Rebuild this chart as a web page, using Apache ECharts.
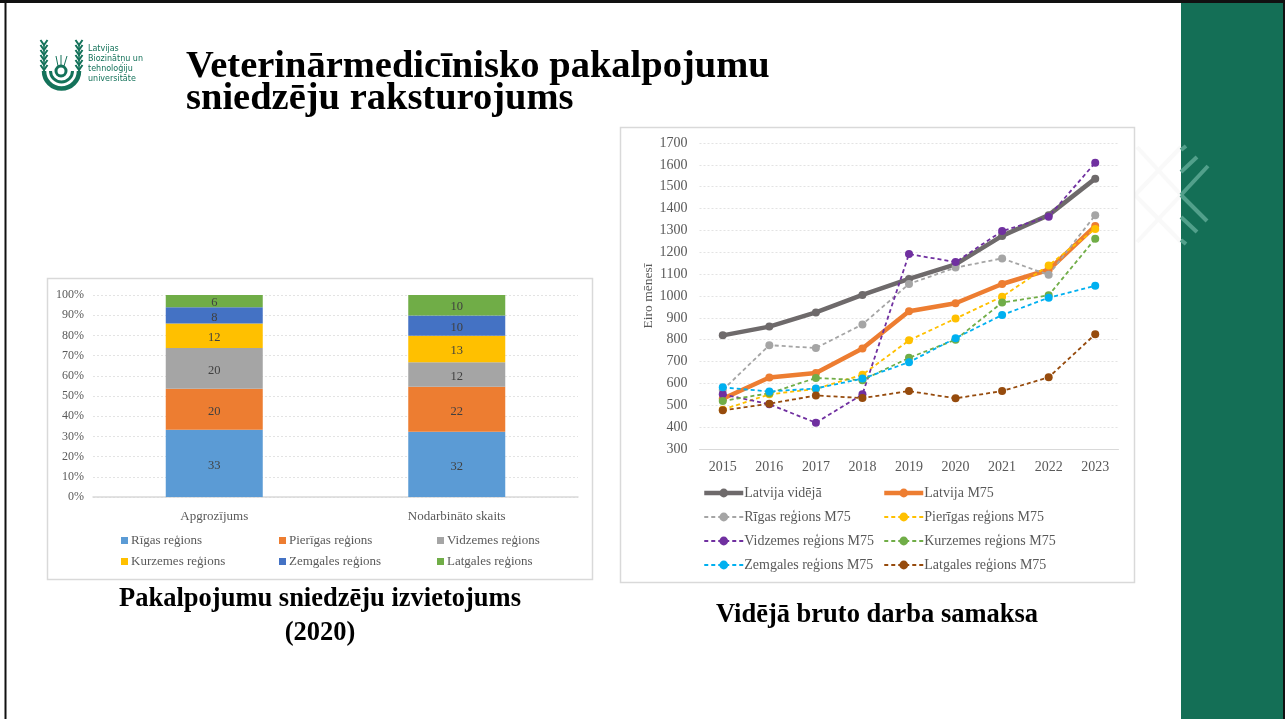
<!DOCTYPE html>
<html><head><meta charset="utf-8">
<style>html,body{margin:0;padding:0;background:#fff}#c{width:1285px;height:719px}</style>
<script src="https://cdn.jsdelivr.net/npm/echarts@6/dist/echarts.min.js"></script>
</head><body><div id="c"></div>
<script>
const years=['2015','2016','2017','2018','2019','2020','2021','2022','2023'];
const latvijaVideja=[820,860,925,1005,1078,1145,1275,1370,1537];
const latvijaM75=[530,627,648,760,930,967,1055,1120,1320];
const rigasM75=[570,775,762,870,1055,1130,1172,1097,1370];
const pierigasM75=[480,550,575,640,797,897,997,1140,1307];
const vidzemesM75=[550,505,420,550,1192,1155,1297,1363,1610];
const kurzemesM75=[520,555,625,615,717,800,970,1003,1262];
const zemgalesM75=[582,563,577,622,697,807,913,992,1047];
const latgalesM75=[477,507,545,533,565,532,565,628,825];

const barCategories=['Apgrozījums','Nodarbināto skaits'];
const rigasShare=[33,32];
const pierigasShare=[20,22];
const vidzemesShare=[20,12];
const kurzemesShare=[12,13];
const zemgalesShare=[8,10];
const latgalesShare=[6,10];
const shareRows=[rigasShare,pierigasShare,vidzemesShare,kurzemesShare,zemgalesShare,latgalesShare];
const barTotals=barCategories.map((_,i)=>shareRows.reduce((s,r)=>s+r[i],0));

const serif='"Liberation Serif","Times New Roman",serif';
const textGrey='#595959';
const barDefs=[['Rīgas reģions',rigasShare,'#5b9bd5'],['Pierīgas reģions',pierigasShare,'#ed7d31'],['Vidzemes reģions',vidzemesShare,'#a5a5a5'],['Kurzemes reģions',kurzemesShare,'#ffc000'],['Zemgales reģions',zemgalesShare,'#4472c4'],['Latgales reģions',latgalesShare,'#70ad47']];
const lineDefs=[['Latvija vidējā',latvijaVideja,'#6e6a6b',true],['Latvija M75',latvijaM75,'#ed7d31',true],['Rīgas reģions M75',rigasM75,'#a5a5a5',false],['Pierīgas reģions M75',pierigasM75,'#ffc000',false],['Vidzemes reģions M75',vidzemesM75,'#7030a0',false],['Kurzemes reģions M75',kurzemesM75,'#70ad47',false],['Zemgales reģions M75',zemgalesM75,'#00b0f0',false],['Latgales reģions M75',latgalesM75,'#964b0d',false]];

const series=[];
barDefs.forEach(d=>series.push({type:'bar',name:d[0],stack:'s',xAxisIndex:0,yAxisIndex:0,barWidth:97,
  data:d[1].map((v,i)=>({value:v/barTotals[i]*100,raw:v})),itemStyle:{color:d[2]},
  label:{show:true,position:'inside',offset:[0,2],fontFamily:serif,fontSize:12.5,color:'#404040',formatter:p=>p.data.raw}}));
lineDefs.forEach(d=>series.push({type:'line',name:d[0],xAxisIndex:1,yAxisIndex:1,data:d[1],symbol:'circle',symbolSize:8,
  lineStyle:{color:d[2],width:d[3]?4.5:1.8,type:d[3]?'solid':[4,3]},itemStyle:{color:d[2]},emphasis:{disabled:true}}));

function barLegend(names,left){return {data:names,left,top:534,orient:'vertical',itemGap:8,itemWidth:7,itemHeight:7,icon:'rect',padding:0,
  textStyle:{fontFamily:serif,fontSize:13,color:textGrey,padding:[0,0,0,-2]}};}
function lineLegend(names,left){return {data:names,left,top:486,orient:'vertical',itemGap:10,itemWidth:39,itemHeight:11,padding:0,
  lineStyle:{width:'inherit',type:'inherit'},
  textStyle:{fontFamily:serif,fontSize:14,color:textGrey,padding:[0,0,0,-4]}};}

const G='#14725a';
const decor=[];
// slide background and side band
decor.push({type:'rect',shape:{x:1181,y:0,width:102,height:719},style:{fill:'#146f56'},z:0});
[[1137,147,1181,195],[1137,242,1181,195],[1135,195,1181,147],[1135,195,1181,242]].forEach(p=>decor.push({type:'line',shape:{x1:p[0],y1:p[1],x2:p[2],y2:p[3]},style:{stroke:'#f9f9f9',lineWidth:4},z:0}));
[[1181,195,1208,166],[1181,195,1207,221],[1181,172,1197,157],[1181,217,1197,232],[1181,150,1186,146],[1181,240,1186,244]].forEach(p=>decor.push({type:'line',shape:{x1:p[0],y1:p[1],x2:p[2],y2:p[3]},style:{stroke:'#52a08b',lineWidth:4},z:1}));
// slide frame
decor.push({type:'rect',shape:{x:0,y:0,width:1285,height:3},style:{fill:'#111'},z:3});
decor.push({type:'rect',shape:{x:4.5,y:0,width:2,height:719},style:{fill:'#111'},z:3});
decor.push({type:'rect',shape:{x:1283,y:0,width:2,height:719},style:{fill:'#111'},z:3});
// chart panels
decor.push({type:'rect',shape:{x:47.5,y:278.5,width:545,height:301},style:{fill:'#fff',stroke:'#d9d9d9',lineWidth:1.5},z:0});
decor.push({type:'rect',shape:{x:620.5,y:127.5,width:514,height:455},style:{fill:'#fff',stroke:'#d9d9d9',lineWidth:1.5},z:0});
// logo
decor.push({type:'arc',shape:{cx:61.5,cy:71,r:17.5,startAngle:0,endAngle:Math.PI},style:{stroke:G,lineWidth:4.5,fill:null},z:1});
decor.push({type:'arc',shape:{cx:61.5,cy:71,r:11,startAngle:0,endAngle:Math.PI},style:{stroke:G,lineWidth:3,fill:null},z:1});
[[44,44,44,71],[79,44,79,71]].forEach(p=>decor.push({type:'line',shape:{x1:p[0],y1:p[1],x2:p[2],y2:p[3]},style:{stroke:G,lineWidth:1.5},z:1}));
[44,79].forEach(x=>{[42,47,52,57,62,67].forEach(y=>{
  decor.push({type:'polyline',shape:{points:[[x-3.5,y-2],[x,y+3],[x+3.5,y-2]]},style:{stroke:G,lineWidth:2,fill:null},z:1});});});
decor.push({type:'circle',shape:{cx:61,cy:71,r:5},style:{fill:'#fff',stroke:G,lineWidth:3},z:1});
[[58,66,56,56],[61,66,61,55],[64,66,67,56]].forEach(p=>decor.push({type:'line',shape:{x1:p[0],y1:p[1],x2:p[2],y2:p[3]},style:{stroke:G,lineWidth:1},z:1}));
// texts
const logoLines=['Latvijas','Biozinātņu un','tehnoloģiju','universitāte'];
logoLines.forEach((t,i)=>decor.push({type:'text',x:88,y:44.5+i*10,style:{text:t,font:'8px "DejaVu Sans",sans-serif',fill:G,textVerticalAlign:'top'},z:1}));
const titleLines=['Veterinārmedicīnisko pakalpojumu','sniedzēju raksturojums'];
titleLines.forEach((t,i)=>decor.push({type:'text',x:186,y:47.5+i*32,style:{text:t,font:'bold 38.5px '+serif,fill:'#000'},z:1}));
const captions=[['Pakalpojumu sniedzēju izvietojums',320,586],['(2020)',320,620],['Vidējā bruto darba samaksa',877,602]];
captions.forEach(c=>decor.push({type:'text',x:c[1],y:c[2],style:{text:c[0],font:'bold 26.5px '+serif,fill:'#000',textAlign:'center'},z:1}));

const dotted={show:true,lineStyle:{color:'#e3e3e3',type:[2,2],width:1}};
const option={animation:false,backgroundColor:'#fff',
 graphic:{elements:decor},
 grid:[{left:93,width:485,top:295,height:202},{left:699.5,width:419,top:143,height:306}],
 xAxis:[
  {type:'category',gridIndex:0,data:barCategories,axisTick:{show:false},axisLine:{lineStyle:{color:'#d9d9d9',width:1.5}},axisLabel:{fontFamily:serif,fontSize:13,color:textGrey,margin:13}},
  {type:'category',gridIndex:1,data:years,axisTick:{show:false},axisLine:{lineStyle:{color:'#d9d9d9',width:1}},axisLabel:{fontFamily:serif,fontSize:14,color:textGrey,margin:11}}],
 yAxis:[
  {type:'value',gridIndex:0,min:0,max:100,interval:10,axisLine:{show:false},axisTick:{show:false},splitLine:dotted,axisLabel:{fontFamily:serif,fontSize:12,color:textGrey,formatter:'{value}%',margin:9}},
  {type:'value',gridIndex:1,min:300,max:1700,interval:100,axisLine:{show:false},axisTick:{show:false},splitLine:dotted,axisLabel:{fontFamily:serif,fontSize:14,color:textGrey,margin:12,formatter:v=>String(v)},
   name:'Eiro mēnesī',nameLocation:'middle',nameGap:44,nameRotate:90,nameTextStyle:{fontFamily:serif,fontSize:13.5,color:textGrey}}],
 legend:[
  barLegend(['Rīgas reģions','Kurzemes reģions'],121),
  barLegend(['Pierīgas reģions','Zemgales reģions'],279),
  barLegend(['Vidzemes reģions','Latgales reģions'],437),
  lineLegend(lineDefs.filter((d,i)=>i%2==0).map(d=>d[0]),702),
  lineLegend(lineDefs.filter((d,i)=>i%2==1).map(d=>d[0]),882)],
 series};
echarts.init(document.getElementById('c'),null,{renderer:'canvas'}).setOption(option);
</script></body></html>
